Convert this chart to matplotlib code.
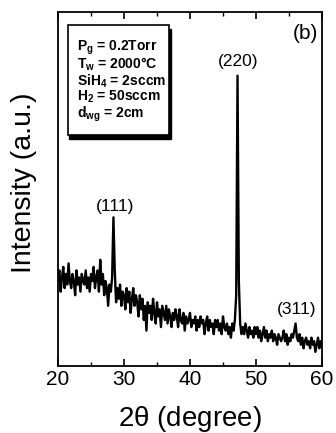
import matplotlib
matplotlib.use("Agg")
import matplotlib.pyplot as plt
from matplotlib.patches import Rectangle
from matplotlib.ticker import MultipleLocator
import numpy as np

plt.rcParams['font.family'] = ['Liberation Sans', 'DejaVu Sans']
plt.rcParams['mathtext.fontset'] = 'custom'
plt.rcParams['mathtext.rm'] = 'Liberation Sans'
plt.rcParams['mathtext.bf'] = 'Liberation Sans:bold'
plt.rcParams['mathtext.default'] = 'regular'

# intensity, 20..60 deg in 0.2 deg steps
intensity = [
    24, 27, 21, 25, 28, 22, 26, 23, 29, 24,
    22, 26, 24, 20, 27, 23, 25, 21, 26, 24,
    23, 27, 22, 25, 21, 26, 24, 28, 22, 25,
    27, 21, 30, 23, 26, 20, 24, 22, 17, 23,
    21, 25, 42, 27, 18, 22, 19, 23, 17, 21,
    20, 16, 22, 18, 21, 15, 19, 22, 17, 20,
    18, 14, 20, 16, 19, 13, 17, 10, 18, 15,
    17, 13, 19, 15, 12, 18, 14, 16, 11, 17,
    15, 13, 17, 12, 16, 14, 11, 15, 13, 16,
    14, 11, 16, 13, 12, 15, 10, 14, 12, 13,
    15, 11, 13, 12, 14, 10, 13, 11, 14, 12,
    13, 9, 12, 14, 10, 13, 11, 12, 9, 13,
    11, 13, 10, 12, 9, 14, 11, 10, 12, 9,
    11, 8, 12, 10, 13, 20, 82, 24, 12, 9,
    11, 9, 12, 10, 8, 11, 9, 10, 8, 11,
    9, 11, 8, 10, 7, 9, 11, 8, 10, 7,
    9, 8, 10, 7, 9, 8, 6, 9, 8, 7,
    8, 10, 7, 9, 6, 8, 7, 9, 8, 10,
    12, 8, 7, 9, 6, 8, 5, 7, 8, 6,
    7, 5, 8, 6, 7, 4, 6, 8, 5, 7,
    6,
]
two_theta = np.linspace(20, 60, len(intensity))

peak_labels = ["(111)", "(220)", "(311)"]
peak_pos = [28.6, 47.3, 56.2]
peak_lab_y = [45, 86, 16]

conditions = [r"P$_g$ = 0.2Torr", r"T$_w$ = 2000°C", r"SiH$_4$ = 2sccm",
              r"H$_2$ = 50sccm", r"d$_{wg}$ = 2cm"]

fig = plt.figure(figsize=(3.36, 4.33), dpi=100)
ax = fig.add_axes([58/336, 1-366/433, 264/336, 354/433])
ax.plot(two_theta, intensity, color='black', lw=1.7)

ax.set_xlim(20, 60)
ax.set_ylim(0, 100)
ax.xaxis.set_major_locator(MultipleLocator(10))
ax.xaxis.set_minor_locator(MultipleLocator(5))
ax.set_yticks([])
ax.tick_params(axis='x', which='both', direction='in', top=True, labelsize=15, pad=3)
ax.tick_params(axis='x', which='major', length=5, width=1.2)
ax.tick_params(axis='x', which='minor', length=3, width=1)
for s in ax.spines.values():
    s.set_linewidth(1.3)

ax.set_xlabel(r"2$\theta$ (degree)", fontsize=20, labelpad=11)
ax.set_ylabel("Intensity (a.u.)", fontsize=20.5)
ax.yaxis.set_label_coords(-0.078, 0.517)

for lab, px, py in zip(peak_labels, peak_pos, peak_lab_y):
    ax.text(px, py, lab, ha='center', va='center', fontsize=12.5)

ax.text(0.936, 0.94, "(b)", transform=ax.transAxes, ha='center', va='center', fontsize=15)

# condition box with a drop shadow (right / bottom)
ax.add_patch(Rectangle((0.042, 0.642), 0.386, 0.31, transform=ax.transAxes,
                       facecolor='black', edgecolor='black', zorder=4))
ax.add_patch(Rectangle((0.036, 0.653), 0.386, 0.31, transform=ax.transAxes,
                       facecolor='white', edgecolor='black', lw=1.2, zorder=5))
ax.text(0.072, 0.925, "\n".join(conditions), transform=ax.transAxes, ha='left',
        va='top', fontsize=10, fontweight='bold', linespacing=0.93, zorder=6)

fig.savefig("out.png", dpi=100)
